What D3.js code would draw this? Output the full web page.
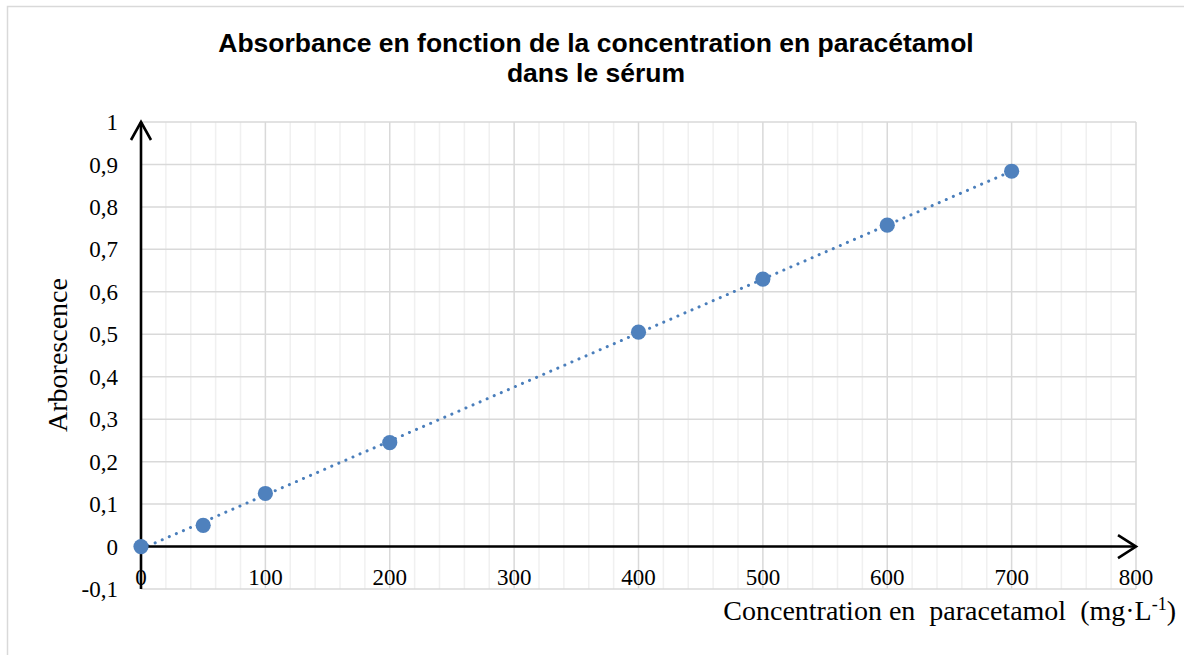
<!DOCTYPE html>
<html>
<head>
<meta charset="utf-8">
<script src="https://cdn.jsdelivr.net/npm/d3@7"></script>
<style>
  body { margin: 0; background: #fff; }
  svg { display: block; }
</style>
</head>
<body>
<div id="chart"></div>
<script>
// Data
const concentrations = [0, 50, 100, 200, 400, 500, 600, 700];
const absorbances = [0, 0.05, 0.125, 0.245, 0.505, 0.63, 0.757, 0.884];
const xTicks = [0, 100, 200, 300, 400, 500, 600, 700, 800];
const yTicks = [-0.1, 0, 0.1, 0.2, 0.3, 0.4, 0.5, 0.6, 0.7, 0.8, 0.9, 1];
const titleLines = ['Absorbance en fonction de la concentration en paracétamol', 'dans le sérum'];

const width = 1184, height = 655;
const blue = '#4f81bd';

const svg = d3.select('#chart').append('svg')
  .attr('width', width)
  .attr('height', height);

// chart frame (goes past the right and bottom edges)
svg.append('rect')
  .attr('x', 7.5).attr('y', 6.5)
  .attr('width', 1300).attr('height', 800)
  .attr('fill', 'none')
  .attr('stroke', '#d9d9d9')
  .attr('stroke-width', 1.5);

// scales
const x = d3.scaleLinear().domain([0, 800]).range([141, 1136]);
const y = d3.scaleLinear().domain([-0.1, 1]).range([589, 122]);

// minor vertical grid, every 20
const minorX = d3.range(0, 801, 20).filter(v => v % 100 !== 0);
svg.append('g')
  .selectAll('line')
  .data(minorX)
  .enter()
  .append('line')
  .attr('x1', d => x(d)).attr('x2', d => x(d))
  .attr('y1', y(1)).attr('y2', y(-0.1))
  .attr('stroke', '#f0f0f0')
  .attr('stroke-width', 1.5);

// major vertical grid
svg.append('g')
  .selectAll('line')
  .data(xTicks)
  .enter()
  .append('line')
  .attr('x1', d => x(d)).attr('x2', d => x(d))
  .attr('y1', y(1)).attr('y2', y(-0.1))
  .attr('stroke', '#d9d9d9')
  .attr('stroke-width', 1.5);

// horizontal grid
svg.append('g')
  .selectAll('line')
  .data(yTicks)
  .enter()
  .append('line')
  .attr('x1', x(0)).attr('x2', x(800))
  .attr('y1', d => y(d)).attr('y2', d => y(d))
  .attr('stroke', '#d9d9d9')
  .attr('stroke-width', 1.5);

// tick labels
const fmt = d => d3.format('.1~f')(d).replace('.', ',').replace('−', '-');
svg.append('g')
  .selectAll('text')
  .data(yTicks)
  .enter()
  .append('text')
  .attr('x', 118)
  .attr('y', d => y(d))
  .attr('dy', '0.35em')
  .attr('text-anchor', 'end')
  .style('font-family', '"Liberation Serif", serif')
  .style('font-size', '23px')
  .text(fmt);

svg.append('g')
  .selectAll('text')
  .data(xTicks)
  .enter()
  .append('text')
  .attr('x', d => x(d))
  .attr('y', 585)
  .attr('text-anchor', 'middle')
  .style('font-family', '"Liberation Serif", serif')
  .style('font-size', '23px')
  .text(d => d);

// trendline (least squares through the points)
const n = concentrations.length;
const mx = d3.mean(concentrations), my = d3.mean(absorbances);
let sxy = 0, sxx = 0;
concentrations.forEach((c, i) => {
  sxy += (c - mx) * (absorbances[i] - my);
  sxx += (c - mx) * (c - mx);
});
const slope = sxy / sxx;
const intercept = my - slope * mx;
const xMin = d3.min(concentrations), xMax = d3.max(concentrations);

svg.append('line')
  .attr('x1', x(xMin)).attr('y1', y(intercept + slope * xMin))
  .attr('x2', x(xMax)).attr('y2', y(intercept + slope * xMax))
  .attr('stroke', '#4a7ebb')
  .attr('stroke-width', 3)
  .attr('stroke-linecap', 'round')
  .attr('stroke-dasharray', '0.1 7.6');

// axes with arrows
const axes = svg.append('g')
  .attr('stroke', '#000')
  .attr('stroke-width', 2.6)
  .attr('fill', 'none');

axes.append('line')
  .attr('x1', x(0)).attr('x2', x(0))
  .attr('y1', y(-0.1)).attr('y2', y(1));
axes.append('path')
  .attr('d', `M${x(0) - 10},${y(1) + 18} L${x(0)},${y(1)} L${x(0) + 10},${y(1) + 18}`);

axes.append('line')
  .attr('x1', x(0) - 1).attr('x2', x(800))
  .attr('y1', y(0)).attr('y2', y(0));
axes.append('path')
  .attr('d', `M${x(800) - 18},${y(0) - 11.5} L${x(800)},${y(0)} L${x(800) - 18},${y(0) + 11.5}`);

// points
svg.append('g')
  .selectAll('circle')
  .data(concentrations.map((c, i) => ({ c, a: absorbances[i] })))
  .enter()
  .append('circle')
  .attr('cx', d => x(d.c))
  .attr('cy', d => y(d.a))
  .attr('r', 7.6)
  .attr('fill', blue);

// title
svg.append('g')
  .selectAll('text')
  .data(titleLines)
  .enter()
  .append('text')
  .attr('x', 596)
  .attr('y', (d, i) => 52 + i * 30)
  .attr('text-anchor', 'middle')
  .style('font-family', '"Liberation Sans", Arial, sans-serif')
  .style('font-weight', 'bold')
  .style('font-size', '26.5px')
  .text(d => d);

// axis titles
svg.append('text')
  .attr('transform', 'translate(67, 355) rotate(-90)')
  .attr('text-anchor', 'middle')
  .style('font-family', '"Liberation Serif", serif')
  .style('font-size', '28px')
  .text('Arborescence');

const xTitle = svg.append('text')
  .attr('x', 1176)
  .attr('y', 620)
  .attr('text-anchor', 'end')
  .style('font-family', '"Liberation Serif", serif')
  .style('font-size', '28px')
  .style('white-space', 'pre')
  .attr('xml:space', 'preserve');
xTitle.append('tspan').text('Concentration en  paracetamol  (mg·L');
xTitle.append('tspan').attr('dy', -10).style('font-size', '18px').text('-1');
xTitle.append('tspan').attr('dy', 10).text(')');
</script>
</body>
</html>
